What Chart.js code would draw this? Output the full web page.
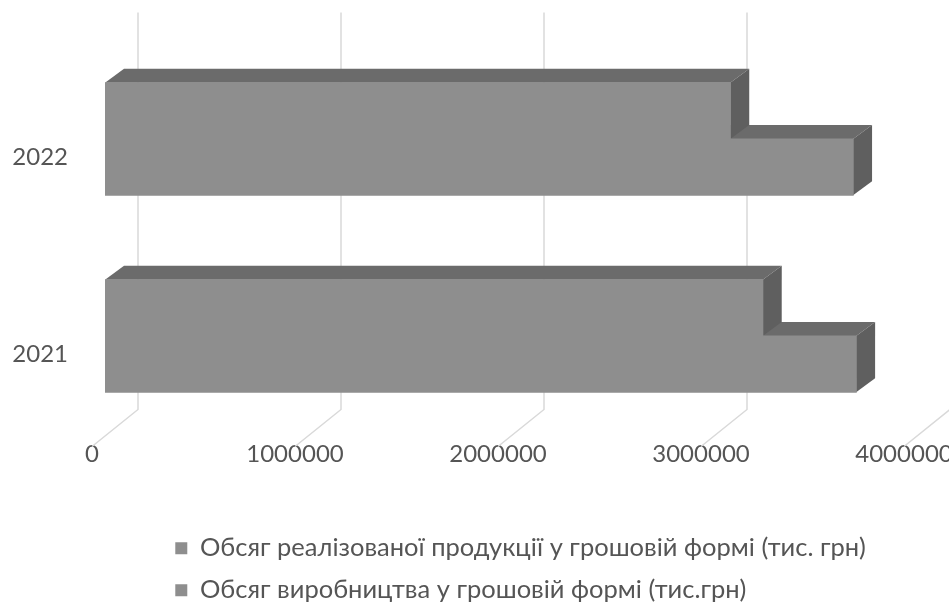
<!DOCTYPE html>
<html>
<head>
<meta charset="utf-8">
<script src="https://cdn.jsdelivr.net/npm/chart.js@4.4.0/dist/chart.umd.min.js"></script>
<style>
  html, body { margin: 0; padding: 0; background: #fff; }
</style>
</head>
<body>
<canvas id="myChart" width="949" height="613"></canvas>
<script>
// Daten
const jahre = ["2022", "2021"];
const realizovano = [3080000, 3240000];   // Обсяг реалізованої продукції
const vyrobleno = [3685000, 3700000];     // Обсяг виробництва
const serien = [
  "Обсяг реалізованої продукції у грошовій формі (тис. грн)",
  "Обсяг виробництва у грошовій формі (тис.грн)"
];
const xMax = 4000000;
const xSchritt = 1000000;

// 3D-Optik
const tiefeX = 19, tiefeY = 14;       // Balkentiefe
const wandX = 33, wandY = 28;         // Rückwand hinter der Balkenfront
const bodenX = 13, bodenY = 12;       // Vorderkante des Bodens
const schrift = "Lato";
const textFarbe = "#555555";

// Gitter: Rückwand + Bodenlinien
const wandPlugin = {
  id: "wand",
  beforeDatasetsDraw(chart) {
    const ctx = chart.ctx, sx = chart.scales.x, area = chart.chartArea;
    ctx.save();
    ctx.strokeStyle = "#d9d9d9";
    ctx.lineWidth = 1.5;
    sx.ticks.forEach(t => {
      const px = sx.getPixelForValue(t.value);
      ctx.beginPath();
      ctx.moveTo(px + wandX, area.top - wandY);
      ctx.lineTo(px + wandX, area.bottom - 25);
      ctx.lineTo(px - bodenX, area.bottom + bodenY);
      ctx.stroke();
    });
    ctx.restore();
  }
};

// Ober- und Seitenflächen der Balken
const quaderPlugin = {
  id: "quader",
  beforeDatasetsDraw(chart) {
    const ctx = chart.ctx;
    ctx.save();
    for (let d = chart.data.datasets.length - 1; d >= 0; d--) {
      chart.getDatasetMeta(d).data.forEach(bar => {
        const p = bar.getProps(["x", "y", "base", "height"], true);
        const oben = p.y - p.height / 2, unten = p.y + p.height / 2;
        ctx.fillStyle = "#6b6b6b";
        ctx.beginPath();
        ctx.moveTo(p.base, oben);
        ctx.lineTo(p.base + tiefeX, oben - tiefeY);
        ctx.lineTo(p.x + tiefeX, oben - tiefeY);
        ctx.lineTo(p.x, oben);
        ctx.closePath();
        ctx.fill();
        ctx.fillStyle = "#5f5f5f";
        ctx.beginPath();
        ctx.moveTo(p.x, oben);
        ctx.lineTo(p.x + tiefeX, oben - tiefeY);
        ctx.lineTo(p.x + tiefeX, unten - tiefeY);
        ctx.lineTo(p.x, unten);
        ctx.closePath();
        ctx.fill();
      });
    }
    ctx.restore();
  }
};

// Legende unter der Bodenfläche zentrieren, Zeilen linksbündig
const legendePlugin = {
  id: "legendeLinks",
  beforeDraw(chart) {
    const lg = chart.legend, area = chart.chartArea;
    if (!lg || !lg.lineWidths) return;
    const pad = lg.options.labels.padding;
    const breit = Math.max(...lg.lineWidths) - pad;
    const mitte = (area.left - bodenX + area.right + 32) / 2;
    const start = mitte - breit / 2;
    const w = lg.left + pad + lg.right - 2 * start;
    lg.lineWidths = lg.lineWidths.map(() => w);
  }
};

const lineChart = document.getElementById("myChart");

let myChart = new Chart(lineChart, {
  type: "bar",
  data: {
    labels: jahre,
    datasets: [
      {
        label: serien[0],
        data: realizovano,
        backgroundColor: "#8e8e8e",
        borderWidth: 0,
        inflateAmount: 0.6,
        categoryPercentage: 0.57,
        barPercentage: 1
      },
      {
        label: serien[1],
        data: vyrobleno,
        backgroundColor: "#8e8e8e",
        borderWidth: 0,
        inflateAmount: 0.6,
        categoryPercentage: 0.57,
        barPercentage: 1
      }
    ]
  },
  options: {
    indexAxis: "y",
    responsive: false,
    animation: false,
    layout: { padding: { top: 40.5, right: 32, left: 0, bottom: 0 } },
    scales: {
      x: {
        min: 0,
        max: xMax,
        grid: { display: false, drawTicks: false },
        border: { display: false },
        ticks: {
          stepSize: xSchritt,
          labelOffset: -bodenX,
          padding: 5,
          color: textFarbe,
          font: { family: schrift, size: 24 },
          callback: v => String(v)
        },
        afterFit(s) {
          s.height = 84.5;
          s.paddingLeft = 0;
          s.paddingRight = 0;
        }
      },
      y: {
        grid: { display: false, drawTicks: false },
        border: { display: false },
        ticks: {
          padding: 37,
          labelOffset: 18,
          color: textFarbe,
          font: { family: schrift, size: 24 }
        },
        afterFit(s) {
          s.width = 105;
          s.paddingTop = 0;
          s.paddingBottom = 0;
        }
      }
    },
    plugins: {
      legend: {
        position: "bottom",
        labels: {
          boxWidth: 12,
          boxHeight: 12,
          padding: 16.5,
          color: textFarbe,
          font: { family: schrift, size: 25.5 }
        }
      },
      tooltip: { enabled: false }
    }
  },
  plugins: [wandPlugin, quaderPlugin, legendePlugin]
});
</script>
</body>
</html>
